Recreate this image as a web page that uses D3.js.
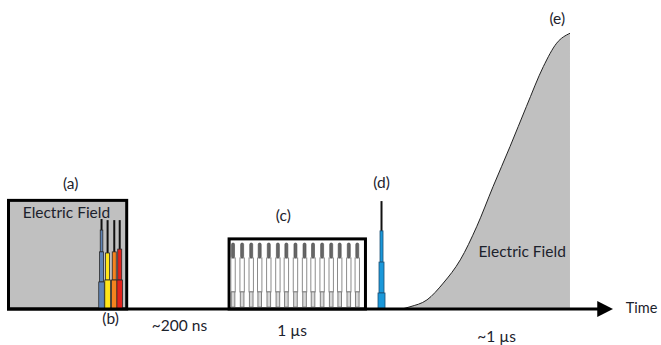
<!DOCTYPE html>
<html>
<head>
<meta charset="utf-8">
<script src="https://cdn.jsdelivr.net/npm/d3@7"></script>
<style>
  html, body { margin: 0; padding: 0; background: #fff; }
  svg { display: block; }
  text { font-family: Lato, "Open Sans", sans-serif; fill: #1c222c; }
</style>
</head>
<body>
<svg id="chart" width="661" height="345"></svg>
<script>
// ---------- data (time units 0..100 along the axis, amplitude units 0..100) ----------
// (a) long electric field box
const boxA = [0, 20, 39.9];            // start, end, height
// (b) pulses inside (a)
const pulseBTime   = [15.6, 16.6, 17.7, 18.6];
const pulseBColor  = ["#5f84b6", "#ffe51a", "#f5831f", "#e3231c"];
const pulseBTip    = [32.6, 32.2, 32.2, 32.2];   // top of the thin black line
const pulseBNarrow = [28.6, 20.3, 20.7, 21.7];   // top of the narrow coloured part
const pulseBMid    = [20.7, 20.3, 20.7, 21.7];   // top of the medium part
const pulseBWide   = [9.8, 10.5, 10.5, 10.5];    // top of the wide bottom part
// (c) 1 µs pulse train box
const boxC = [36.4, 59.4, 25.4];
const pulseCTime = [37.3, 38.8, 40.3, 41.7, 43.2, 44.7, 46.1, 47.6, 49.1, 50.5, 52.0, 53.5, 54.9, 56.4, 57.8];
const pulseCLevels = [23.9, 18.5, 6.2, 0.7];      // tip, end of dark top, end of body, end of stem
// (d) single pulse
const pulseDTime = 61.8;
const pulseDLevels = [39.1, 28.3, 17.0, 5.8];      // tip, narrow, medium, wide
// (e) slow rising field
const curveETime  = [65.2, 66.5, 69.3, 72.0, 74.8, 77.5, 80.2, 83.0, 85.7, 88.5, 90.7, 92.9];
const curveEValue = [0.0, 0.8, 3.3, 9.4, 17.8, 29.8, 44.3, 58.8, 73.3, 87.8, 96.3, 99.9];
// text labels
const labelText = ["(a)", "Electric Field", "(b)", "~200 ns", "(c)", "1 µs", "(d)", "(e)", "Electric Field", "~1 µs", "Time"];
const labelTime = [10.5, 2.6, 17.1, 23.9, 45.6, 44.6, 61.8, 90.8, 77.8, 77.6, 102.1];
const labelAmp  = [43.5, 33.0, -5.6, -8.0, 31.9, -9.8, 43.8, 103.3, 18.8, -12.0, -1.3];
const labelAnchor = ["middle", "start", "middle", "start", "middle", "start", "middle", "middle", "start", "start", "start"];

// ---------- scales ----------
const x = d3.scaleLinear().domain([0, 100]).range([7, 613]);
const y = d3.scaleLinear().domain([0, 100]).range([309, 33]);

const svg = d3.select("#chart");

// (e) curve area
const pts = curveETime.map((t, i) => [t, curveEValue[i]]);
const area = d3.area().x(d => x(d[0])).y0(y(0)).y1(d => y(d[1])).curve(d3.curveMonotoneX);
const line = d3.line().x(d => x(d[0])).y(d => y(d[1])).curve(d3.curveMonotoneX);
svg.append("path").datum(pts).attr("d", area).attr("fill", "#c0c0c0");
svg.append("path").datum(pts).attr("d", line).attr("fill", "none").attr("stroke", "#222").attr("stroke-width", 1);

// (a) box
svg.append("rect")
  .attr("x", x(boxA[0]) + 1.5).attr("y", y(boxA[2]) + 1.5)
  .attr("width", x(boxA[1]) - x(boxA[0]) - 3).attr("height", y(0) - y(boxA[2]) - 1.5)
  .attr("fill", "#c0c0c0").attr("stroke", "#000").attr("stroke-width", 3);

// (b) pulses
const gB = svg.append("g");
pulseBTime.forEach((t, i) => {
  const cx = x(t);
  gB.append("line").attr("x1", cx).attr("x2", cx).attr("y1", y(pulseBTip[i])).attr("y2", y(pulseBNarrow[i]) + 1)
    .attr("stroke", "#111").attr("stroke-width", 2);
  const seg = (top, bottom, w) => gB.append("rect")
    .attr("x", cx - w / 2).attr("y", y(top)).attr("width", w).attr("height", y(bottom) - y(top))
    .attr("fill", pulseBColor[i]).attr("stroke", "#2a2a2a").attr("stroke-width", 0.8);
  if (pulseBNarrow[i] > pulseBMid[i]) seg(pulseBNarrow[i], pulseBMid[i], 2.6);
  seg(pulseBMid[i], pulseBWide[i], 4);
  seg(pulseBWide[i], 0, 5.6);
});

// (c) box
svg.append("rect")
  .attr("x", x(boxC[0]) + 1.5).attr("y", y(boxC[2]))
  .attr("width", x(boxC[1]) - x(boxC[0]) - 3).attr("height", y(0) - y(boxC[2]))
  .attr("fill", "#fff").attr("stroke", "#000").attr("stroke-width", 3);

const gC = svg.append("g");
pulseCTime.forEach(t => {
  const cx = x(t);
  const [l0, l1, l2, l3] = pulseCLevels;
  // body
  gC.append("rect").attr("x", cx - 2.2).attr("y", y(l1)).attr("width", 4.4).attr("height", y(l2) - y(l1))
    .attr("fill", "#fff").attr("stroke", "#8c8c8c").attr("stroke-width", 1);
  // stem
  gC.append("rect").attr("x", cx - 1.8).attr("y", y(l2)).attr("width", 3.6).attr("height", y(l3) - y(l2))
    .attr("fill", "#d8d8d8").attr("stroke", "#808080").attr("stroke-width", 1);
  // dark top
  gC.append("rect").attr("x", cx - 1.5).attr("y", y(l0)).attr("width", 3).attr("height", y(l1) - y(l0))
    .attr("rx", 1.4).attr("fill", "#666").attr("stroke", "#4a4a4a").attr("stroke-width", 0.6);
});

// (d) pulse
const gD = svg.append("g");
const dx = x(pulseDTime);
gD.append("line").attr("x1", dx).attr("x2", dx).attr("y1", y(pulseDLevels[0])).attr("y2", y(pulseDLevels[1]) + 1)
  .attr("stroke", "#111").attr("stroke-width", 2);
[[pulseDLevels[1], pulseDLevels[2], 3], [pulseDLevels[2], pulseDLevels[3], 5], [pulseDLevels[3], 0, 7]].forEach(s => {
  gD.append("rect").attr("x", dx - s[2] / 2).attr("y", y(s[0])).attr("width", s[2]).attr("height", y(s[1]) - y(s[0]))
    .attr("fill", "#1a98da").attr("stroke", "#1d4f73").attr("stroke-width", 0.8);
});

// time axis with arrow
const axis = d3.axisBottom(x).tickValues([]).tickSizeOuter(0);
const gAxis = svg.append("g").attr("transform", `translate(0,${y(0)})`).call(axis);
gAxis.select(".domain").attr("stroke", "#000").attr("stroke-width", 3.2).attr("d", `M${x(0)},0H${x(98)}`);
svg.append("path")
  .attr("d", `M${x(97.4)},${y(0) - 8}L${x(100)},${y(0)}L${x(97.4)},${y(0) + 8}Z`)
  .attr("fill", "#000");

// labels
svg.append("g").selectAll("text").data(labelText).join("text")
  .attr("x", (d, i) => x(labelTime[i]))
  .attr("y", (d, i) => y(labelAmp[i]))
  .attr("text-anchor", (d, i) => labelAnchor[i])
  .attr("font-size", (d) => d === "Time" ? 14.5 : 15.5)
  .text(d => d);
</script>
</body>
</html>
